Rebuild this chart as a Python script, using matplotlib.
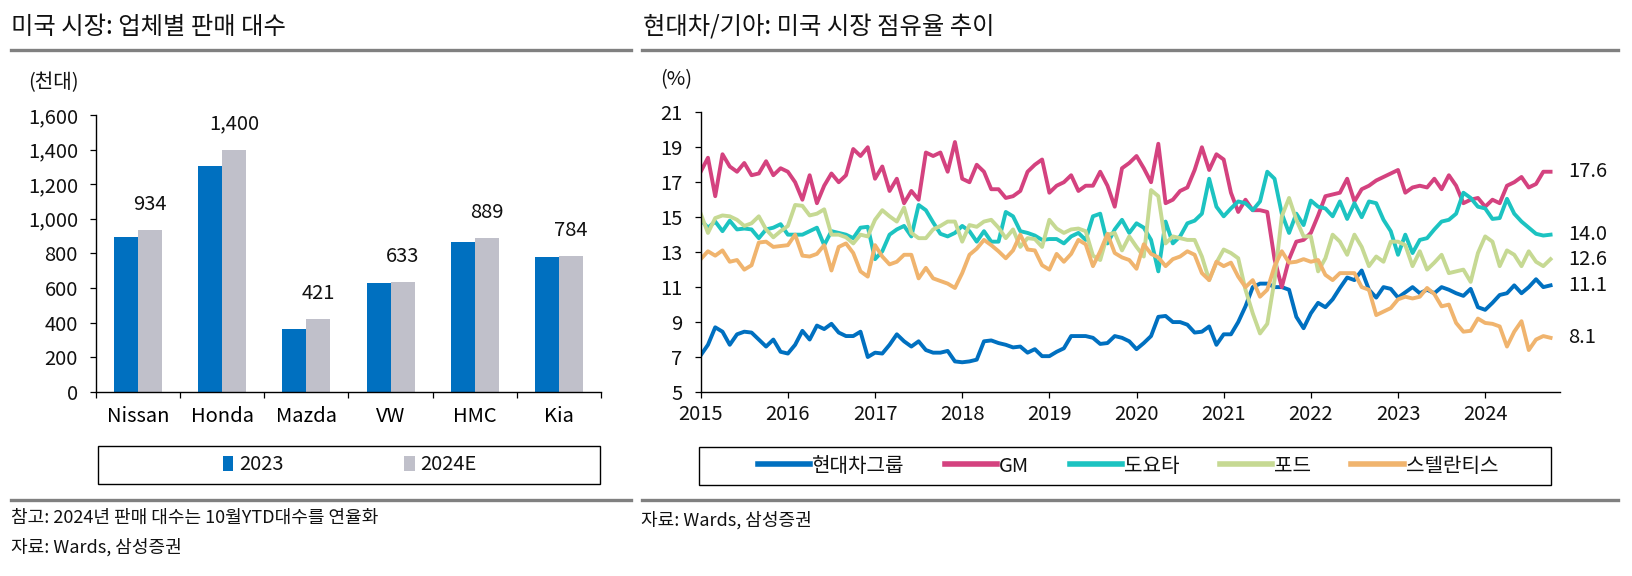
import matplotlib
matplotlib.use('Agg')
import matplotlib.pyplot as plt
from matplotlib.patches import Rectangle
from matplotlib.lines import Line2D

# ---- bar chart data (thousand units) ----
makers = ['Nissan', 'Honda', 'Mazda', 'VW', 'HMC', 'Kia']
sales_2023 = [897, 1307, 361, 630, 868, 781]
sales_2024e = [934, 1400, 421, 633, 889, 784]
bar_names = ['2023', '2024E']

# ---- US market share, monthly Jan 2015 - Oct 2024 (%) ----
years = ['2015', '2016', '2017', '2018', '2019', '2020', '2021', '2022', '2023', '2024']
hyundai = [7.1, 7.7, 8.7, 8.45, 7.7, 8.3, 8.45, 8.4, 8.0, 7.6,
           8.0, 7.3, 7.2, 7.7, 8.5, 8.0, 8.8, 8.6, 8.9, 8.4,
           8.2, 8.2, 8.45, 7.0, 7.25, 7.2, 7.7, 8.3, 7.9, 7.6,
           7.9, 7.4, 7.25, 7.25, 7.35, 6.75, 6.7, 6.75, 6.85, 7.9,
           7.95, 7.8, 7.7, 7.55, 7.6, 7.25, 7.45, 7.05, 7.05, 7.3,
           7.5, 8.2, 8.2, 8.2, 8.1, 7.75, 7.8, 8.2, 8.1, 7.9,
           7.45, 7.8, 8.2, 9.3, 9.35, 9.0, 9.0, 8.85, 8.4, 8.45,
           8.75, 7.7, 8.3, 8.3, 9.0, 9.9, 11.0, 11.2, 11.2, 11.0,
           11.0, 10.85, 9.3, 8.65, 9.5, 10.1, 9.85, 10.3, 10.95, 11.55,
           11.4, 11.95, 10.85, 10.4, 11.0, 10.9, 10.4, 10.7, 11.0, 10.65,
           10.85, 10.65, 11.0, 10.85, 10.65, 10.5, 10.9, 9.85, 9.7, 10.1,
           10.55, 10.65, 11.1, 10.65, 11.0, 11.45, 11.0, 11.1]
gm = [17.6, 18.4, 16.2, 18.6, 17.9, 17.6, 18.1, 17.4, 17.5, 18.2,
      17.4, 17.8, 17.6, 17.0, 16.0, 17.4, 15.8, 16.8, 17.5, 17.0,
      17.4, 18.9, 18.5, 19.0, 17.2, 17.9, 16.5, 17.2, 15.8, 16.5,
      16.0, 18.7, 18.5, 18.7, 17.6, 19.3, 17.2, 17.0, 18.0, 17.6,
      16.6, 16.6, 16.1, 16.2, 16.5, 17.6, 18.0, 18.3, 16.4, 16.8,
      17.0, 17.4, 16.5, 16.8, 16.8, 17.6, 16.8, 15.6, 17.8, 18.1,
      18.5, 17.8, 17.0, 19.2, 15.8, 16.0, 16.5, 16.7, 17.7, 19.0,
      17.7, 18.6, 18.3, 16.4, 15.3, 16.0, 15.4, 15.4, 15.3, 12.6,
      11.0, 12.6, 13.6, 13.7, 14.1, 15.1, 16.2, 16.3, 16.4, 17.2,
      15.9, 16.6, 16.8, 17.1, 17.3, 17.5, 17.7, 16.4, 16.7, 16.8,
      16.7, 17.2, 16.6, 17.4, 16.8, 15.8, 16.0, 16.1, 15.6, 16.0,
      15.8, 16.8, 17.0, 17.3, 16.7, 16.9, 17.6, 17.6]
toyota = [14.85, 14.4, 14.75, 14.2, 14.8, 14.3, 14.35, 14.3, 13.8, 14.3,
          14.4, 14.6, 14.0, 14.0, 14.0, 14.2, 14.4, 13.4, 14.2, 14.1,
          14.0, 13.8, 14.4, 14.45, 12.6, 13.05, 14.0, 14.3, 14.5, 13.9,
          15.7, 15.4, 14.7, 14.05, 13.9, 14.1, 14.5, 14.2, 13.6, 14.2,
          13.6, 13.6, 15.3, 15.05, 14.2, 14.1, 13.95, 13.7, 13.75, 13.75,
          13.5, 13.9, 14.1, 13.7, 15.05, 15.2, 13.5, 14.3, 14.85, 14.1,
          14.65, 14.4, 13.7, 11.9, 14.75, 13.5, 13.9, 14.65, 14.8, 15.2,
          17.2, 15.6, 15.05, 15.5, 15.9, 15.8, 15.4, 15.9, 17.6, 17.2,
          15.2, 14.1, 15.2, 14.55, 15.95, 15.6, 15.5, 15.05, 15.9, 14.9,
          15.8, 15.0, 15.9, 15.8, 14.85, 14.2, 12.85, 14.0, 12.95, 13.7,
          13.8, 14.3, 14.75, 14.85, 15.2, 16.4, 16.1, 15.6, 15.5, 14.9,
          14.95, 16.05, 15.2, 14.75, 14.4, 14.05, 13.95, 14.0]
ford = [15.2, 14.1, 14.95, 15.1, 15.05, 14.85, 14.5, 14.65, 15.05, 14.3,
        13.85, 14.2, 14.5, 15.7, 15.65, 15.1, 15.2, 15.45, 14.0, 14.0,
        13.85, 13.5, 14.0, 13.9, 14.85, 15.4, 15.05, 14.75, 15.55, 14.1,
        13.8, 13.8, 14.3, 14.5, 14.75, 14.75, 13.6, 14.55, 14.45, 14.75,
        14.85, 14.4, 13.8, 14.3, 13.3, 13.8, 13.75, 13.3, 14.85, 14.35,
        14.1, 14.3, 14.35, 14.2, 12.8, 12.55, 14.0, 14.1, 13.1, 13.9,
        13.3, 12.75, 16.55, 16.2, 13.5, 13.9, 13.8, 13.7, 13.7, 12.75,
        11.4, 12.4, 13.15, 12.95, 12.65, 10.85, 9.5, 8.35, 8.9, 11.4,
        15.05, 16.1, 14.85, 13.9, 13.9, 11.9, 12.65, 14.0, 13.6, 12.85,
        14.0, 13.3, 12.2, 12.75, 12.45, 13.6, 13.6, 13.4, 12.2, 13.05,
        12.0, 12.4, 12.85, 11.8, 11.9, 12.0, 11.3, 12.95, 13.9, 13.6,
        12.2, 13.1, 12.85, 12.2, 13.05, 12.45, 12.2, 12.6]
stellantis = [12.6, 13.05, 12.8, 13.1, 12.45, 12.55, 12.0, 12.25, 13.55, 13.6,
              13.3, 13.35, 13.4, 14.0, 12.8, 12.75, 12.9, 13.4, 11.95, 13.3,
              13.5, 12.95, 11.9, 11.6, 13.4, 12.75, 12.3, 12.45, 12.85, 12.85,
              11.5, 12.1, 11.5, 11.35, 11.2, 10.95, 11.8, 12.85, 13.2, 13.7,
              13.4, 13.05, 12.65, 13.1, 14.0, 13.15, 13.1, 12.25, 12.0, 12.9,
              12.45, 12.9, 13.7, 13.45, 12.2, 13.05, 14.05, 12.95, 12.7, 12.55,
              12.05, 13.45, 12.9, 12.7, 12.2, 12.6, 12.75, 13.05, 12.85, 11.8,
              11.4, 12.45, 12.2, 12.4, 11.6, 11.0, 11.4, 10.45, 10.85, 12.2,
              13.05, 12.4, 12.45, 12.6, 12.45, 12.55, 11.7, 11.4, 11.8, 11.8,
              11.8, 11.0, 10.85, 9.4, 9.6, 9.8, 10.3, 10.45, 10.35, 10.45,
              10.95, 10.6, 9.9, 10.0, 8.95, 8.45, 8.5, 9.2, 8.95, 8.9,
              8.75, 7.6, 8.45, 9.05, 7.4, 8.0, 8.2, 8.1]
series_names = ['현대차그룹', 'GM', '도요타', '포드', '스텔란티스']
series_vals = [hyundai, gm, toyota, ford, stellantis]
series_colors = ['#0070C0', '#D4427F', '#1CC3C1', '#C6D993', '#F0B46E']

plt.rcParams['font.family'] = ['Noto Sans CJK KR', 'DejaVu Sans']
plt.rcParams['font.size'] = 14.5
plt.rcParams['font.weight'] = 'light'
plt.rcParams['text.color'] = '#111111'

W, H = 1633, 576
fig = plt.figure(figsize=(W / 100, H / 100), dpi=100)


def fx(px):
    return px / W


def fy(py):
    return 1 - py / H


def style_axes(ax):
    for side in ['top', 'right']:
        ax.spines[side].set_visible(False)
    for side in ['left', 'bottom']:
        ax.spines[side].set_linewidth(1.0)
        ax.spines[side].set_color('black')
    ax.tick_params(axis='both', direction='out', length=4, width=0.9,
                   colors='black', labelcolor='#111111', labelsize=14.5)
    ax.tick_params(axis='y', pad=9)
    ax.tick_params(axis='x', pad=5)


# titles and rules
fig.text(fx(11), fy(27), '미국 시장: 업체별 판매 대수', fontsize=17.5, fontweight='medium',
         va='center', ha='left')
fig.text(fx(643), fy(27), '현대차/기아: 미국 시장 점유율 추이', fontsize=17.5, fontweight='medium',
         va='center', ha='left')
for x0, x1 in [(11, 631), (642, 1618)]:
    fig.add_artist(Line2D([fx(x0), fx(x1)], [fy(49.5), fy(49.5)], color='#808080', lw=2.4))
    fig.add_artist(Line2D([fx(x0), fx(x1)], [fy(500), fy(500)], color='#808080', lw=2.4))

# ---- left: bar chart ----
ax1 = fig.add_axes([fx(96), fy(391.7), fx(601) - fx(96), fy(115) - fy(391.7)])
style_axes(ax1)
xs = list(range(len(makers)))
bw = 0.285
b1 = ax1.bar([x - bw / 2 for x in xs], sales_2023, width=bw, color='#0070C0', label=bar_names[0])
b2 = ax1.bar([x + bw / 2 for x in xs], sales_2024e, width=bw, color='#C0C0CA', label=bar_names[1])
for x, v in zip(xs, sales_2024e):
    ax1.annotate(f'{v:,}', (x + bw / 2, v), xytext=(0, 18.5), textcoords='offset points',
                 ha='center', va='center', fontsize=14.5)
ax1.set_xlim(-0.5, len(makers) - 0.5)
ax1.set_ylim(0, 1600)
ax1.set_yticks(range(0, 1601, 200))
ax1.set_yticklabels([f'{v:,}' for v in range(0, 1601, 200)])
ax1.set_xticks([x + 0.5 for x in [-1] + xs])
ax1.set_xticklabels([])
ax1.set_xticks(xs, minor=True)
ax1.set_xticklabels(makers, minor=True)
ax1.tick_params(axis='x', which='minor', length=0, pad=10, labelsize=14.5)
fig.text(fx(28), fy(83), '(천대)', fontsize=14.5, va='center', ha='left')

fig.add_artist(Rectangle((fx(98), fy(484)), fx(600) - fx(98), fy(446) - fy(484),
                         fill=False, edgecolor='black', lw=1.0))
fig.legend(handles=[b1, b2], loc='center', bbox_to_anchor=(fx(350), fy(465)),
           ncol=2, frameon=False, fontsize=14.5, handlelength=0.5, handleheight=0.75,
           handletextpad=0.3, columnspacing=6.0)

fig.text(fx(11), fy(518), '참고: 2024년 판매 대수는 10월YTD대수를 연율화', fontsize=13, va='center', ha='left')
fig.text(fx(11), fy(547), '자료: Wards, 삼성증권', fontsize=13, va='center', ha='left')

# ---- right: line chart ----
ax2 = fig.add_axes([fx(700.7), fy(392), fx(1560) - fx(700.7), fy(112.3) - fy(392)])
style_axes(ax2)
months = list(range(len(hyundai)))
for name, vals, col in zip(series_names, series_vals, series_colors):
    ax2.plot(months, vals, color=col, lw=2.8, label=name, solid_joinstyle='round')
    ax2.annotate(f'{vals[-1]:.1f}', (months[-1], vals[-1]), xytext=(13, 0),
                 textcoords='offset points', ha='left', va='center', fontsize=14.5)
ax2.set_xlim(0, 118.3)
ax2.set_ylim(5, 21)
ax2.set_yticks(range(5, 22, 2))
ax2.set_xticks([12 * i for i in range(len(years))])
ax2.set_xticklabels(years)
fig.text(fx(660), fy(80), '(%)', fontsize=14.5, va='center', ha='left')

fig.add_artist(Rectangle((fx(699), fy(485)), fx(1551) - fx(699), fy(447) - fy(485),
                         fill=False, edgecolor='black', lw=1.0))
leg_handles = [Line2D([], [], color=c, lw=4) for c in series_colors]
fig.legend(leg_handles, series_names, loc='center', bbox_to_anchor=(fx(1128), fy(466)),
           ncol=5, frameon=False, fontsize=14.5, handlelength=2.6, handletextpad=0.1,
           columnspacing=2.0)

fig.text(fx(641), fy(520), '자료: Wards, 삼성증권', fontsize=13, va='center', ha='left')

fig.savefig('out.png', dpi=100, facecolor='white')
